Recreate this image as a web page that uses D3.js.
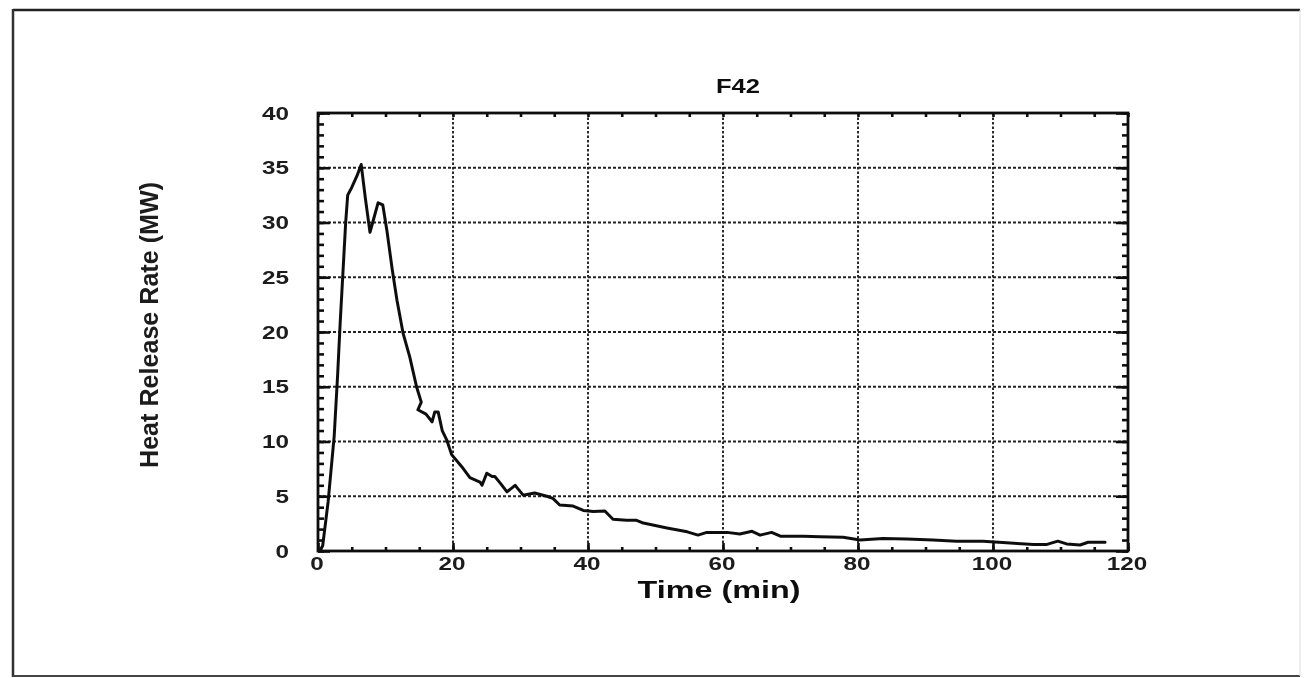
<!DOCTYPE html>
<html>
<head>
<meta charset="utf-8">
<script src="https://cdn.jsdelivr.net/npm/d3@7"></script>
<style>
  html, body { margin: 0; padding: 0; background: #fff; }
  svg { display: block; }
  .tick-label { font-family: "Liberation Sans", Arial, Helvetica, sans-serif; font-weight: bold; font-size: 18px; fill: #1a1a1a; }
</style>
</head>
<body>
<svg id="chart" width="1305" height="678"></svg>
<script>
// Test F42: heat release rate over time
const chartTitle = "F42";
const xLabel = "Time (min)";
const yLabel = "Heat Release Rate (MW)";

const xTicks = [0, 20, 40, 60, 80, 100, 120];
const yTicks = [0, 5, 10, 15, 20, 25, 30, 35, 40];

const timeMin = [
  0.3, 0.7, 1.5, 2.4, 2.9, 3.3, 3.7, 4.1, 4.4, 5.0, 5.8, 6.4,
  7.0, 7.7, 8.1, 8.9, 9.6, 10.2, 11.0, 11.7, 12.6, 13.6, 14.6, 15.3,
  14.8, 16.0, 16.9, 17.3, 17.8, 18.4, 19.1, 19.8, 21.3, 22.5, 24.0, 24.3,
  25.0, 25.8, 26.2, 27.0, 28.0, 29.2, 29.6, 30.4, 32.1, 33.9, 34.8, 35.8,
  37.8, 39.3, 40.8, 42.5, 43.7, 45.7, 47.2, 48.2, 51.7, 54.7, 56.3, 57.6,
  60.6, 62.5, 64.3, 65.5, 67.2, 68.5, 71.9, 74.4, 77.8, 80.3, 83.7, 87.2,
  91.1, 94.6, 98.5, 102.0, 106.0, 108.0, 109.6, 110.9, 112.9, 114.1, 116.6
];
const hrrMW = [
  0.0, 0.5, 4.5, 10.5, 16.0, 21.0, 25.5, 30.0, 32.5, 33.2, 34.3, 35.3,
  32.3, 29.1, 30.0, 31.8, 31.6, 29.3, 25.7, 22.9, 19.9, 17.7, 15.0, 13.6,
  12.9, 12.5, 11.8, 12.7, 12.7, 11.0, 10.1, 8.8, 7.7, 6.7, 6.3, 6.0,
  7.1, 6.8, 6.8, 6.2, 5.4, 6.0, 5.7, 5.1, 5.3, 5.0, 4.8, 4.2,
  4.1, 3.7, 3.6, 3.65, 2.9, 2.8, 2.8, 2.55, 2.1, 1.75, 1.45, 1.7,
  1.7, 1.55, 1.8, 1.45, 1.7, 1.35, 1.35, 1.3, 1.25, 1.0, 1.15, 1.1,
  1.0, 0.9, 0.9, 0.75, 0.6, 0.6, 0.9, 0.65, 0.55, 0.8, 0.8
];

const svg = d3.select("#chart");
const W = 1305, H = 678;

// soft scan-like rendering
const defs = svg.append("defs");
defs.append("filter").attr("id", "soft")
  .append("feGaussianBlur").attr("stdDeviation", 0.75);

const root = svg.append("g").attr("filter", "url(#soft)");

root.append("rect").attr("width", W).attr("height", H).attr("fill", "#fff");

// outer page frame
root.append("line").attr("x1", 13).attr("y1", 10).attr("x2", 1300).attr("y2", 10)
  .attr("stroke", "#222").attr("stroke-width", 2.5);
root.append("line").attr("x1", 13).attr("y1", 9).attr("x2", 13).attr("y2", 677)
  .attr("stroke", "#333").attr("stroke-width", 2.5);
root.append("line").attr("x1", 13).attr("y1", 676).attr("x2", 1300).attr("y2", 676)
  .attr("stroke", "#444").attr("stroke-width", 2);
root.append("line").attr("x1", 1300).attr("y1", 10).attr("x2", 1300).attr("y2", 676)
  .attr("stroke", "#ddd").attr("stroke-width", 1);

const plot = { left: 318, right: 1128, top: 113, bottom: 551 };

const x = d3.scaleLinear().domain([0, 120]).range([plot.left, plot.right]);
const y = d3.scaleLinear().domain([0, 40]).range([plot.bottom, plot.top]);

// dotted grid at major ticks
const grid = root.append("g");
grid.selectAll("line.gx").data(xTicks.slice(1, -1)).join("line")
  .attr("x1", d => x(d)).attr("x2", d => x(d))
  .attr("y1", plot.top).attr("y2", plot.bottom)
  .attr("stroke", "#222").attr("stroke-width", 1.9).attr("stroke-dasharray", "2.5,2");
grid.selectAll("line.gy").data(yTicks.slice(1, -1)).join("line")
  .attr("x1", plot.left).attr("x2", plot.right)
  .attr("y1", d => y(d)).attr("y2", d => y(d))
  .attr("stroke", "#222").attr("stroke-width", 1.9).attr("stroke-dasharray", "3,2");

// inward ticks on all four sides
const xMinor = d3.range(0, 121, 5);
const yMinor = d3.range(0, 41, 1);

const axBottom = d3.axisBottom(x).tickValues(xMinor).tickSizeInner(-4).tickSizeOuter(0).tickFormat("");
const axTop = d3.axisTop(x).tickValues(xMinor).tickSizeInner(-4).tickSizeOuter(0).tickFormat("");
const axLeftMinor = d3.axisLeft(y).tickValues(yMinor).tickSizeInner(-6).tickSizeOuter(0).tickFormat("");
const axRightMinor = d3.axisRight(y).tickValues(yMinor).tickSizeInner(-6).tickSizeOuter(0).tickFormat("");
const axLeftMajor = d3.axisLeft(y).tickValues(yTicks).tickSizeInner(-12).tickSizeOuter(0).tickFormat("");
const axRightMajor = d3.axisRight(y).tickValues(yTicks).tickSizeInner(-12).tickSizeOuter(0).tickFormat("");
const axBottomMajor = d3.axisBottom(x).tickValues(xTicks).tickSizeInner(-8).tickSizeOuter(0).tickFormat("");

function styleAxis(g) {
  g.select(".domain").remove();
  g.selectAll(".tick line").attr("stroke", "#111").attr("stroke-width", 2.6);
}
root.append("g").attr("transform", `translate(0,${plot.bottom})`).call(axBottom).call(styleAxis);
root.append("g").attr("transform", `translate(0,${plot.bottom})`).call(axBottomMajor).call(styleAxis);
root.append("g").attr("transform", `translate(0,${plot.top})`).call(axTop).call(styleAxis);
root.append("g").attr("transform", `translate(${plot.left},0)`).call(axLeftMinor).call(styleAxis);
root.append("g").attr("transform", `translate(${plot.left},0)`).call(axLeftMajor).call(styleAxis);
root.append("g").attr("transform", `translate(${plot.right},0)`).call(axRightMinor).call(styleAxis);
root.append("g").attr("transform", `translate(${plot.right},0)`).call(axRightMajor).call(styleAxis);

// plot frame
root.append("rect")
  .attr("x", plot.left).attr("y", plot.top)
  .attr("width", plot.right - plot.left).attr("height", plot.bottom - plot.top)
  .attr("fill", "none").attr("stroke", "#111").attr("stroke-width", 2.8);

// tick labels (wide digits)
const digitW = 13.5;
root.append("g").selectAll("text").data(xTicks).join("text")
  .attr("class", "tick-label")
  .attr("x", d => x(d) - 1).attr("y", plot.bottom + 19)
  .attr("text-anchor", "middle")
  .attr("textLength", d => String(d).length * digitW).attr("lengthAdjust", "spacingAndGlyphs")
  .text(d => d);
root.append("g").selectAll("text").data(yTicks).join("text")
  .attr("class", "tick-label")
  .attr("x", plot.left - 29).attr("y", d => y(d) + 6.5)
  .attr("text-anchor", "end")
  .attr("textLength", d => String(d).length * digitW).attr("lengthAdjust", "spacingAndGlyphs")
  .text(d => d);

// heat release rate curve
const pts = timeMin.map((t, i) => [t, hrrMW[i]]);
const line = d3.line().x(d => x(d[0])).y(d => y(d[1]));
root.append("path")
  .datum(pts)
  .attr("d", line)
  .attr("fill", "none")
  .attr("stroke", "#111")
  .attr("stroke-width", 3)
  .attr("stroke-linejoin", "round")
  .attr("stroke-linecap", "round");

// titles
root.append("text")
  .attr("x", 738).attr("y", 93)
  .attr("text-anchor", "middle")
  .attr("font-family", "Liberation Sans, Arial, sans-serif")
  .attr("font-weight", "bold").attr("font-size", 21).attr("fill", "#111")
  .attr("textLength", 44).attr("lengthAdjust", "spacingAndGlyphs")
  .text(chartTitle);

root.append("text")
  .attr("x", 719).attr("y", 598)
  .attr("text-anchor", "middle")
  .attr("font-family", "Liberation Sans, Arial, sans-serif")
  .attr("font-weight", "bold").attr("font-size", 23).attr("fill", "#111")
  .attr("textLength", 163).attr("lengthAdjust", "spacingAndGlyphs")
  .text(xLabel);

root.append("text")
  .attr("transform", "translate(158,325) rotate(-90)")
  .attr("text-anchor", "middle")
  .attr("font-family", "Liberation Sans Narrow, Liberation Sans, Arial, sans-serif")
  .attr("font-weight", "bold")
  .attr("font-size", 25).attr("fill", "#1a1a1a")
  .attr("textLength", 286).attr("lengthAdjust", "spacingAndGlyphs")
  .text(yLabel);
</script>
</body>
</html>
